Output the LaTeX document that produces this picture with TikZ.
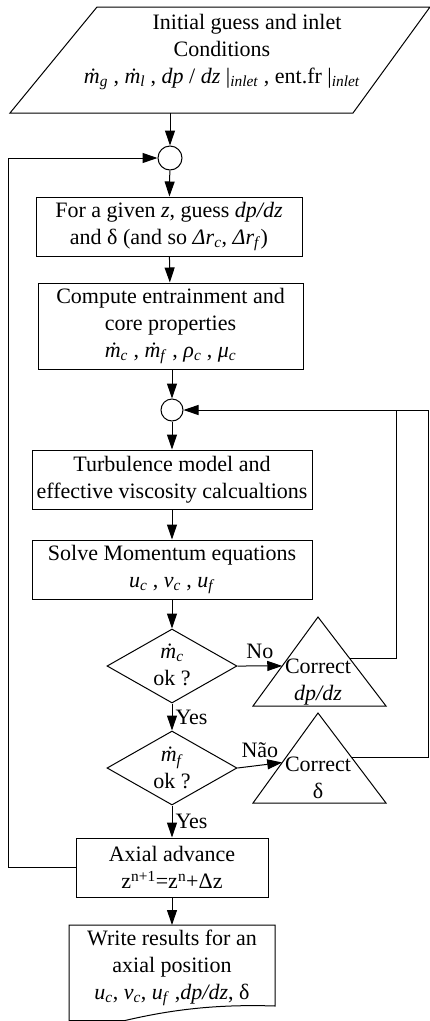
\documentclass[tikz,border=0pt]{standalone}
\usepackage{fontspec}
\setmainfont{Liberation Serif}
\usetikzlibrary{arrows.meta,shapes.geometric,calc}

\tikzset{
    every node/.style={font=\fontsize{22}{27}\selectfont, inner sep=0pt},
    box/.style={draw, rectangle, align=center},
    joint/.style={draw, circle, minimum size=#1},
    dec/.style={draw, diamond, minimum width=130pt, minimum height=74pt},
    flow/.style={-{Triangle[length=15pt,width=10pt]}},
}
\newcommand{\md}{\textit{\.{m}}}
\newcommand{\sbs}[1]{\textsubscript{\textit{#1}}}

\begin{document}
\begin{tikzpicture}[x=1pt, y=-1pt, line width=1pt]
    \useasboundingbox (0,0) rectangle (430,1021);
    % define variables.
    \def\pa{(97,7)}
    \def\pb{(430,7)}
    \def\pc{(353,113)}
    \def\pd{(10,113)}
    % input parallelogram
    \draw \pa -- \pb -- \pc -- \pd -- cycle;
    \node[align=center] (init) at (222,52) {\hspace*{50pt}Initial guess and inlet\\Conditions\\
        \md\sbs{g} , \md\sbs{l} , \textit{dp} / \textit{dz} |\sbs{inlet} , ent.fr |\sbs{inlet}};
    \coordinate (initout) at (170,113);
    % draw the blocks
    \node[joint=24pt] (c1) at (170,158) {};
    \node[box, minimum width=266pt, minimum height=59pt] (guess) at (169,226.5)
        {For a given \textit{z}, guess \textit{dp/dz}\\and δ (and so \textit{Δr}\sbs{c}, \textit{Δr}\sbs{f})};
    \node[box, minimum width=265pt, minimum height=86pt] (core) at (170.5,326)
        {Compute entrainment and\\core properties\\
        \md\sbs{c} , \md\sbs{f} , \textit{ρ}\sbs{c} , \textit{μ}\sbs{c}};
    \node[joint=22pt] (c2) at (172,410) {};
    \node[box, minimum width=280pt, minimum height=59pt] (turb) at (172,479.5)
        {Turbulence model and\\effective viscosity calcualtions};
    \node[box, minimum width=280pt, minimum height=59pt] (solve) at (172,569.5)
        {Solve Momentum equations\\\textit{u}\sbs{c} , \textit{v}\sbs{c} , \textit{u}\sbs{f}};
    \node[dec] (d1) at (172,666) {};
    \node[align=center] (d1txt) at (172,665) {\md\sbs{c}\\ok ?};
    \node[dec] (d2) at (172,768) {};
    \node[align=center] (d2txt) at (172,768) {\md\sbs{f}\\ok ?};
    \node[box, minimum width=192pt, minimum height=59pt] (axial) at (172,867.5)
        {Axial advance\\z\textsuperscript{n+1}=z\textsuperscript{n}+Δz};
    % correction triangles
    \coordinate (t1a) at (318,617);
    \coordinate (t1l) at (253,706);
    \coordinate (t1r) at (386,706);
    \draw (t1a) -- (t1l) -- (t1r) -- cycle;
    \node[align=center] (corr1) at (318,682) {Correct\\\textit{dp/dz}};
    \coordinate (t2a) at (318,713);
    \coordinate (t2l) at (253,803);
    \coordinate (t2r) at (386,803);
    \draw (t2a) -- (t2l) -- (t2r) -- cycle;
    \node[align=center] (corr2) at (318,778) {Correct\\δ};
    % output document
    \draw (69,925) -- (275,925) -- (275,1006)
        .. controls (215,1004) and (170,1010) .. (125,1020.5) -- (69,1020.5) -- cycle;
    \node[align=center] (write) at (172,968)
        {Write results for an\\axial position\\
        \textit{u}\sbs{c}, \textit{v}\sbs{c}, \textit{u}\sbs{f} ,\textit{dp/dz}, δ};
    \coordinate (writein) at (172,925);
    % draw the edges
    \draw[flow] (initout) -- (c1);
    \draw[flow] (c1) -- (guess);
    \draw[flow] (guess) -- (core);
    \draw[flow] (core.south -| c2) -- (c2);
    \draw[flow] (c2) -- (turb);
    \draw[flow] (turb) -- (solve);
    \draw[flow] (solve) -- (d1);
    \draw[flow] (d1) -- node[right=3pt] (yes1) {Yes} (d2);
    \draw[flow] (d2) -- node[right=3pt] (yes2) {Yes} (axial);
    \draw[flow] (axial) -- (writein);
    \draw[flow] (d1.east) -- node[above=7pt] (no) {No} ($(t1a)!0.55!(t1l)$);
    \draw[flow] (d2.east) -- node[above=7pt] (nao) {Não} ($(t2a)!0.55!(t2l)$);
    % feedback loops
    \draw[flow] (axial.west) -- (8,867.5) |- (c1.west);
    \draw ($(t1a)!0.47!(t1r)$) -| (396,410);
    \draw[flow] ($(t2a)!0.49!(t2r)$) -| (428,410) -- (c2.east);
\end{tikzpicture}
\end{document}
